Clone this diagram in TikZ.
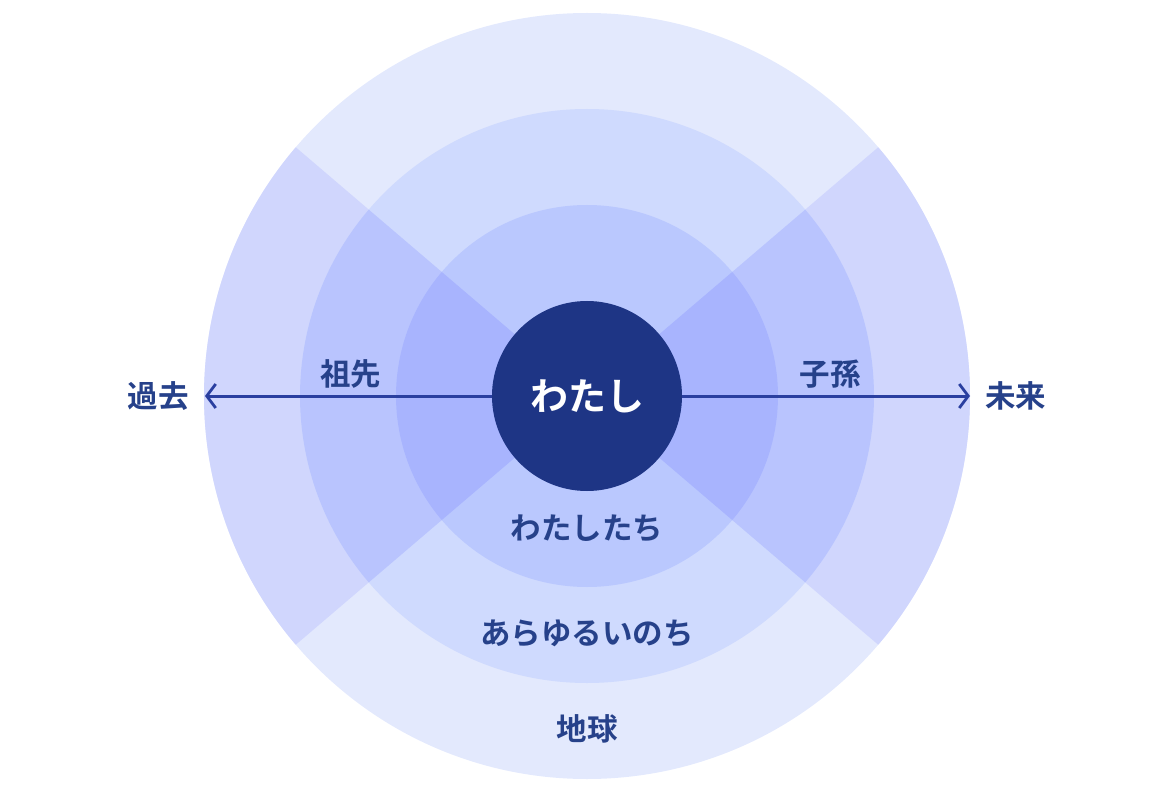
\documentclass[tikz,border=0pt]{standalone}
\usepackage{fontspec}
\setmainfont{Noto Sans CJK JP}[BoldFont={Noto Sans CJK JP Bold}]
\usetikzlibrary{arrows.meta,positioning}

\definecolor{earthbase}{HTML}{E3E9FD}
\definecolor{earthside}{HTML}{D0D6FD}
\definecolor{lifebase}{HTML}{CFDAFE}
\definecolor{lifeside}{HTML}{B9C4FE}
\definecolor{usbase}{HTML}{BAC8FE}
\definecolor{usside}{HTML}{A8B4FE}
\definecolor{navy}{HTML}{1E3585}
\definecolor{labelblue}{HTML}{26418A}
\definecolor{arrowblue}{HTML}{2A3FA0}

\tikzset{
  lbl/.style={text=labelblue,inner sep=0pt,font=\fontsize{30.5}{36}\selectfont\bfseries},
  flow/.style={arrowblue,line width=3pt,-{Straight Barb[length=9pt,width=24pt,line width=2.8pt]}}
}

\begin{document}
\begin{tikzpicture}[x=1pt,y=1pt]
  \useasboundingbox (-587,-407) rectangle (582,396);
  % rings, outside in
  \foreach \r/\base/\side in {383/earthbase/earthside,287/lifebase/lifeside,191/usbase/usside}{
    \fill[\base] (0,0) circle (\r);
    \fill[\side] (0,0) -- (40.5:\r) arc (40.5:-40.5:\r) -- cycle;
    \fill[\side] (0,0) -- (139.5:\r) arc (139.5:220.5:\r) -- cycle;
  }
  \coordinate (past) at (-382,0);
  \coordinate (future) at (383,0);
  \node[circle,fill=navy,minimum size=190pt,inner sep=0pt,text=white,
        font=\fontsize{38}{44}\selectfont\bfseries] (me) at (0,0) {わたし};
  \draw[flow] (me.west) -- (past);
  \draw[flow] (me.east) -- (future);
  \node[lbl,left=16pt of past] (pastlbl) {過去};
  \node[lbl,right=15pt of future] (futurelbl) {未来};
  \node[lbl] (ancestors) at (-236,22) {祖先};
  \node[lbl] (descendants) at (243,22) {子孫};
  \node[lbl] (us) at (0,-132) {わたしたち};
  \node[lbl] (life) at (0,-237) {あらゆるいのち};
  \node[lbl] (earth) at (0,-333) {地球};
\end{tikzpicture}
\end{document}
